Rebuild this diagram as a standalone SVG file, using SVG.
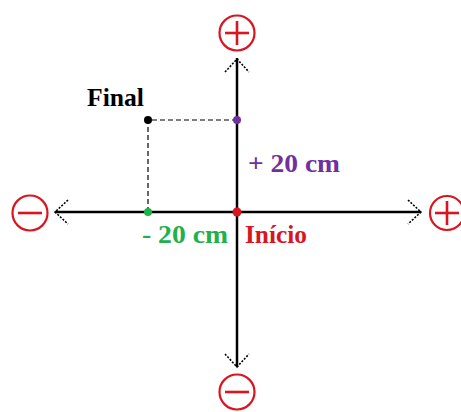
<svg xmlns="http://www.w3.org/2000/svg" width="461" height="412" viewBox="0 0 461 412">
<style>
.sign{fill:none;stroke:#d9161f;stroke-width:2.2}
.bar{stroke:#d9161f;stroke-width:2.6}
.axis{stroke:#000;stroke-width:2.5;fill:none}
.head{stroke:#000;stroke-width:1.6;fill:none;stroke-dasharray:2 1.5}
.dash{stroke:#000;stroke-width:1.2;stroke-dasharray:5 3;fill:none}
text{font-family:"Liberation Serif","Times New Roman",serif;font-weight:bold;font-size:25px}
</style>
<rect width="461" height="412" fill="#fff"/>
<g id="connectors">
<line class="axis" x1="237" y1="58" x2="237" y2="367"/>
<line class="axis" x1="55" y1="212" x2="421" y2="212"/>
<polyline class="head" points="225,72 237,59 249,72"/>
<polyline class="head" points="225,354 237,367 249,354"/>
<polyline class="head" points="68,200 55,212 68,224"/>
<polyline class="head" points="408,200 421,212 408,224"/>
<polyline class="dash" points="237,120 148,120 148,212"/>
</g>
<g id="plus-top"><circle class="sign" cx="237" cy="33" r="17.5"/><line class="bar" x1="225" y1="33" x2="249" y2="33"/><line class="bar" x1="237" y1="21" x2="237" y2="45"/></g>
<g id="minus-bottom"><circle class="sign" cx="237" cy="392" r="17.5"/><line class="bar" x1="225" y1="392" x2="249" y2="392"/></g>
<g id="minus-left"><circle class="sign" cx="30" cy="213" r="17.5"/><line class="bar" x1="18" y1="213" x2="42" y2="213"/></g>
<g id="plus-right"><circle class="sign" cx="447" cy="213" r="17"/><line class="bar" x1="435" y1="213" x2="459" y2="213"/><line class="bar" x1="447" y1="201" x2="447" y2="225"/></g>
<g id="final"><circle cx="148" cy="120" r="4" fill="#000"/><text x="87" y="106" textLength="57" lengthAdjust="spacingAndGlyphs">Final</text></g>
<g id="y20"><circle cx="237" cy="120" r="4" fill="#7030a0"/><text x="248" y="172" fill="#7030a0" textLength="92" lengthAdjust="spacingAndGlyphs">+ 20 cm</text></g>
<g id="x20"><circle cx="148" cy="212" r="4" fill="#22b04b"/><text x="142" y="243" fill="#22b04b" textLength="86" lengthAdjust="spacingAndGlyphs">- 20 cm</text></g>
<g id="inicio"><circle cx="237" cy="212" r="4.5" fill="#d9161f"/><text x="245" y="243" fill="#d9161f" textLength="62" lengthAdjust="spacingAndGlyphs">Início</text></g>
</svg>
